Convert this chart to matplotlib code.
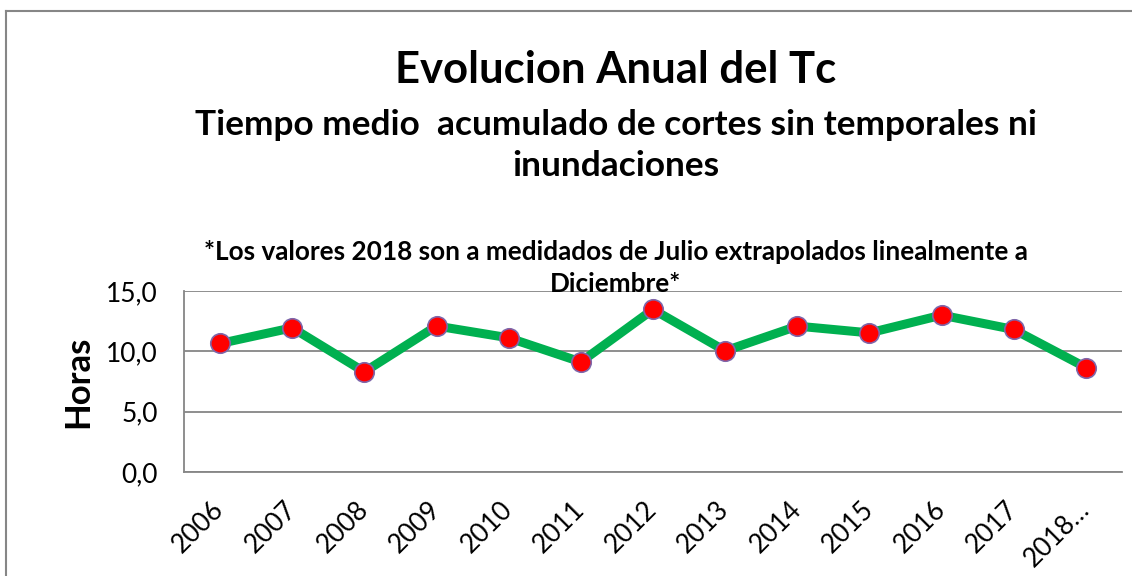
import matplotlib
matplotlib.use("Agg")
import matplotlib.pyplot as plt
from matplotlib.lines import Line2D

years = ["2006", "2007", "2008", "2009", "2010", "2011", "2012",
         "2013", "2014", "2015", "2016", "2017", "2018…"]
horas = [10.65, 11.95, 8.3, 12.1, 11.12, 9.12, 13.47,
         10.04, 12.09, 11.53, 13.0, 11.81, 8.66]
yticks = [0, 5, 10, 15]
ytick_labels = ["0,0", "5,0", "10,0", "15,0"]

W, H = 1132, 576
fig = plt.figure(figsize=(W / 100, H / 100), dpi=100)
plt.rcParams['font.family'] = ['Lato', 'DejaVu Sans']

def fx(x):
    return x / W

def fy(y):
    return 1 - y / H

# outer chart border (left and top visible)
fig.add_artist(Line2D([fx(5.5), fx(5.5)], [0, fy(10.5)], transform=fig.transFigure,
                      color="#868686", linewidth=1.5))
fig.add_artist(Line2D([fx(5.5), 1.0], [fy(10.5), fy(10.5)], transform=fig.transFigure,
                      color="#868686", linewidth=1.5))

left, right, top, bottom = 184, 1122, 291, 472
ax = fig.add_axes([fx(left), fy(bottom), fx(right - left), (bottom - top) / H])
x = list(range(len(years)))
ax.plot(x, horas, color="#00B050", linewidth=6.5, zorder=3,
        marker="o", markersize=14, markerfacecolor="#FF0000",
        markeredgecolor="#7F66AA", markeredgewidth=1.2)
ax.set_xlim(-0.5, len(years) - 0.5)
ax.set_ylim(0, 15)
ax.set_yticks(yticks)
ax.set_yticklabels(ytick_labels, fontsize=19)
ax.set_xticks(x)
ax.set_xticklabels(years, rotation=45, ha="right", va="center",
                   rotation_mode="anchor", fontsize=19)
ax.tick_params(axis="y", length=0, pad=19)
ax.tick_params(axis="x", length=0, pad=24)
ax.grid(axis="y", color="#868686", linewidth=1.3)
ax.set_axisbelow(True)
for s in ["top", "right"]:
    ax.spines[s].set_visible(False)
for s in ["left", "bottom"]:
    ax.spines[s].set_color("#868686")
    ax.spines[s].set_linewidth(1.3)

fig.text(fx(78), fy(382), "Horas", ha="center", va="center", rotation=90,
         fontsize=25, fontweight="bold")

fig.text(fx(616), fy(70), "Evolucion Anual del Tc", ha="center", va="center",
         fontsize=31.4, fontweight="bold")
fig.text(fx(616), fy(125), "Tiempo medio  acumulado de cortes sin temporales ni",
         ha="center", va="center", fontsize=25.4, fontweight="bold")
fig.text(fx(616), fy(166), "inundaciones", ha="center", va="center",
         fontsize=25.4, fontweight="bold")
fig.text(fx(616), fy(252), "*Los valores 2018 son a medidados de Julio extrapolados linealmente a",
         ha="center", va="center", fontsize=18.8, fontweight="bold")
fig.text(fx(616), fy(284), "Diciembre*", ha="center", va="center",
         fontsize=18.8, fontweight="bold")

fig.savefig("out.png", dpi=100)
